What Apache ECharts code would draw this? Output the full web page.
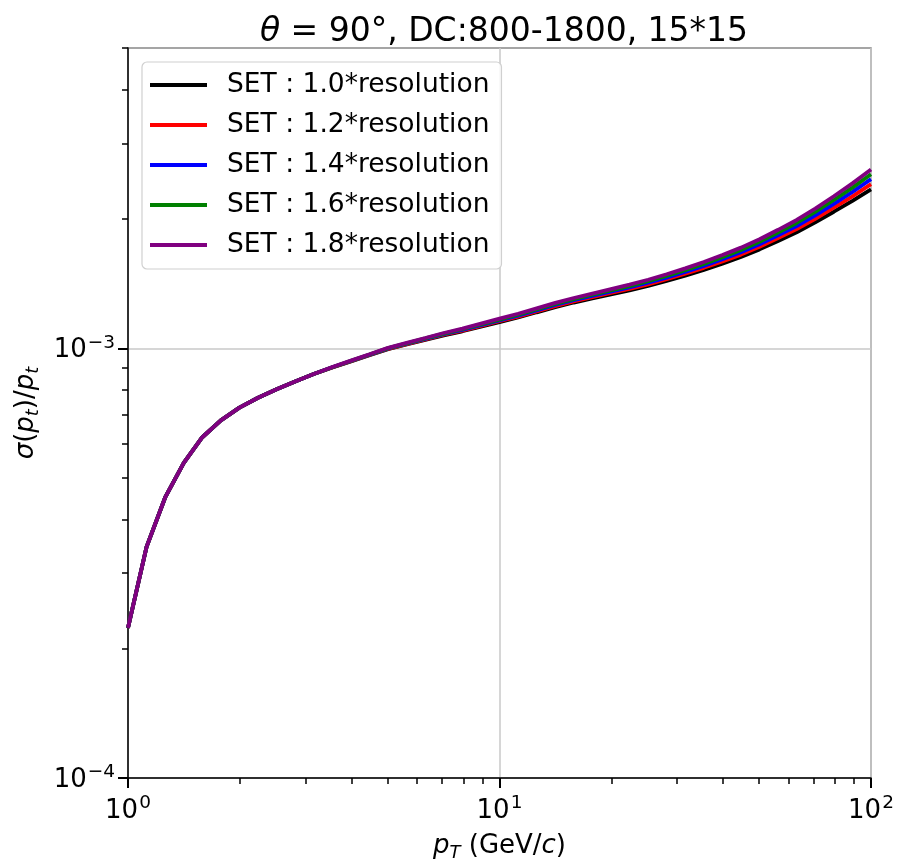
<!DOCTYPE html>
<html><head><meta charset="utf-8">
<script src="https://cdn.jsdelivr.net/npm/echarts@6/dist/echarts.min.js"></script>
<style>html,body{margin:0;padding:0;background:#fff}#c{width:897px;height:867px}</style>
</head><body><div id="c"></div>
<script>
// ---- data ----
const pT = [1.000,1.122,1.259,1.413,1.585,1.778,1.995,2.239,2.512,2.818,3.162,3.548,3.981,4.467,5.012,5.623,6.310,7.079,7.943,8.913,
            10.00,11.22,12.59,14.13,15.85,17.78,19.95,22.39,25.12,28.18,31.62,35.48,39.81,44.67,50.12,56.23,63.10,70.79,79.43,89.13,100.0];
const UNIT = 1e-4; // values below are sigma(pt)/pt in units of 1e-4
const res10 = [2.236,3.450,4.497,5.412,6.210,6.796,7.277,7.674,8.027,8.375,8.715,
  9.021,9.320,9.636,9.958,10.208,10.460,10.724,10.957,11.235,11.506,11.795,12.130,12.469,12.782,13.063,13.356,13.649,13.978,14.352,14.768,15.229,15.746,16.314,16.994,17.776,18.623,19.639,20.793,22.040,23.453];
const res12 = [2.236,3.450,4.497,5.412,6.210,6.796,7.277,7.674,8.027,8.375,8.715,
  9.027,9.330,9.649,9.975,10.230,10.487,10.756,10.997,11.280,11.560,11.855,12.195,12.541,12.861,13.150,13.451,13.753,14.094,14.481,14.914,15.394,15.932,16.524,17.232,18.050,18.942,20.016,21.243,22.581,24.108];
const res14 = [2.236,3.450,4.497,5.412,6.210,6.796,7.277,7.674,8.027,8.375,8.715,
  9.033,9.340,9.661,9.993,10.252,10.515,10.789,11.036,11.325,11.613,11.915,12.260,12.612,12.940,13.238,13.546,13.858,14.211,14.611,15.059,15.559,16.117,16.734,17.470,18.324,19.260,20.394,21.693,23.122,24.762];
const res16 = [2.236,3.450,4.497,5.412,6.210,6.796,7.277,7.674,8.027,8.375,8.715,
  9.039,9.350,9.674,10.010,10.273,10.543,10.822,11.076,11.370,11.667,11.975,12.325,12.684,13.018,13.325,13.641,13.962,14.327,14.740,15.205,15.723,16.303,16.945,17.708,18.598,19.579,20.771,22.144,23.663,25.417];
const res18 = [2.236,3.450,4.497,5.412,6.210,6.796,7.277,7.674,8.027,8.375,8.715,
  9.045,9.360,9.687,10.027,10.295,10.571,10.855,11.115,11.415,11.721,12.035,12.390,12.756,13.097,13.413,13.736,14.067,14.444,14.870,15.350,15.888,16.488,17.155,17.946,18.872,19.897,21.149,22.594,24.204,26.071];
const seriesNames = ['SET : 1.0*resolution','SET : 1.2*resolution','SET : 1.4*resolution','SET : 1.6*resolution','SET : 1.8*resolution'];
const xMajor = [1, 10, 100];
const xMinor = [2,3,4,5,6,7,8,9,20,30,40,50,60,70,80,90];
const yMajor = [1e-4, 1e-3];
const yMinor = [2e-4,3e-4,4e-4,5e-4,6e-4,7e-4,8e-4,9e-4,2e-3,3e-3,4e-3,5e-3];

// ---- chart ----
const FONT = 'DejaVu Sans';
const colors = ['#000000','#ff0000','#0000ff','#008000','#800080'];
const allVals = [res10,res12,res14,res16,res18];
const chart = echarts.init(document.getElementById('c'), null, {renderer:'canvas'});

function expLabel(v){
  const e = Math.round(Math.log10(v));
  const s = e < 0 ? '\u2212' + (-e) : String(e);
  return '{b|10}{s|' + s + '}';
}
const tickRich = {
  b:{fontFamily:FONT,fontSize:26,color:'#000',lineHeight:30,verticalAlign:'bottom'},
  s:{fontFamily:FONT,fontSize:18.5,color:'#000',lineHeight:30,verticalAlign:'top',padding:[0,0,0,1]}
};
const nameRich = {
  r:{fontFamily:FONT,fontSize:26,color:'#000',lineHeight:32,verticalAlign:'middle'},
  i:{fontFamily:FONT,fontSize:26,fontStyle:'italic',color:'#000',lineHeight:32,verticalAlign:'middle'},
  sub:{fontFamily:FONT,fontSize:18,fontStyle:'italic',color:'#000',lineHeight:32,verticalAlign:'bottom'}
};

const option = {
  backgroundColor:'#fff',
  animation:false,
  title:{
    text:'{i|θ} = 90°, DC:800-1800, 15*15',
    left:499, top:11, textAlign:'center',
    textStyle:{fontFamily:FONT,fontSize:33,fontWeight:'normal',color:'#000',
      rich:{i:{fontFamily:FONT,fontSize:33,fontStyle:'italic',color:'#000'}}}
  },
  grid:{left:128, right:26, top:48, bottom:80, show:true, borderColor:'#888', borderWidth:1.5, containLabel:false},
  legend:{
    orient:'vertical', left:142, top:62,
    padding:[8,12,9,8], itemGap:10,
    itemWidth:57, itemHeight:4, icon:'rect',
    backgroundColor:'rgba(255,255,255,0.85)', borderColor:'#d0d0d0', borderWidth:1.2, borderRadius:5,
    textStyle:{fontFamily:FONT,fontSize:26.5,color:'#000',lineHeight:30,padding:[0,0,0,15]},
    data:seriesNames
  },
  xAxis:[{
    type:'log', logBase:10, min:1, max:100,
    axisLine:{show:true,onZero:false,lineStyle:{color:'#000',width:1.5}},
    axisTick:{show:true,length:10,customValues:xMajor,lineStyle:{color:'#000',width:2}},
    axisLabel:{show:true,margin:16,customValues:xMajor,formatter:expLabel,rich:tickRich},
    splitLine:{show:true,lineStyle:{color:'#c8c8c8',width:1.5}},
    name:'{i|p}{sub|T}{r| (GeV/}{i|c}{r|)}', nameLocation:'middle', nameGap:52,
    nameTextStyle:{rich:nameRich}
  },{
    type:'log', logBase:10, min:1, max:100, position:'bottom', offset:0,
    axisLine:{show:false}, axisLabel:{show:false}, splitLine:{show:false},
    axisTick:{show:true,length:6,customValues:xMinor,lineStyle:{color:'#000',width:1.5}}
  }],
  yAxis:[{
    type:'log', logBase:10, min:1e-4, max:5e-3,
    axisLine:{show:true,onZero:false,lineStyle:{color:'#000',width:1.5}},
    axisTick:{show:true,length:10,customValues:yMajor,lineStyle:{color:'#000',width:2}},
    axisLabel:{show:true,margin:13,customValues:yMajor,formatter:expLabel,rich:tickRich},
    splitLine:{show:true,lineStyle:{color:'#c8c8c8',width:1.5}},
    name:'{i|σ}{r|(}{i|p}{sub|t}{r|)/}{i|p}{sub|t}', nameLocation:'middle', nameRotate:90, nameGap:84,
    nameTextStyle:{rich:nameRich}
  },{
    type:'log', logBase:10, min:1e-4, max:5e-3, position:'left', offset:0,
    axisLine:{show:false}, axisLabel:{show:false}, splitLine:{show:false},
    axisTick:{show:true,length:6,customValues:yMinor,lineStyle:{color:'#000',width:1.5}}
  }],
  series: seriesNames.map((nm, si) => ({
    name:nm, type:'line', xAxisIndex:0, yAxisIndex:0,
    showSymbol:false, symbol:'none', smooth:false, clip:true,
    color:colors[si],
    lineStyle:{color:colors[si], width:3.8},
    z:2+si,
    data: pT.map((x, k) => [x, allVals[si][k] * UNIT])
  }))
};
chart.setOption(option);
</script></body></html>
